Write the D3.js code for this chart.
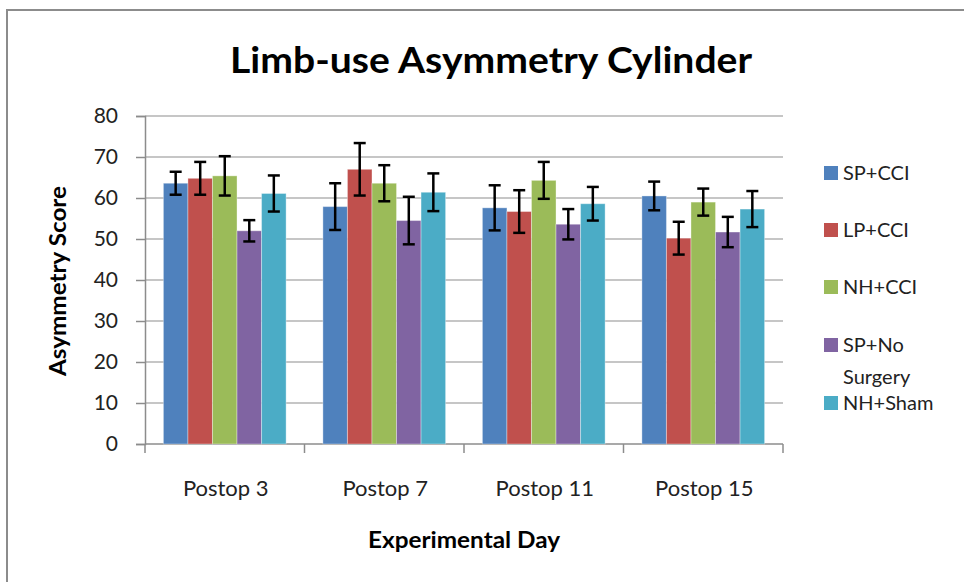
<!DOCTYPE html>
<html>
<head>
<meta charset="utf-8">
<script src="https://cdn.jsdelivr.net/npm/d3@7"></script>
<style>
  body { margin: 0; background: #fff; }
  svg text { font-family: Lato, "Noto Sans", sans-serif; }
</style>
</head>
<body>
<svg id="chart"></svg>
<script>
// chart data
const days = ["Postop 3", "Postop 7", "Postop 11", "Postop 15"];
const groups = ["SP+CCI", "LP+CCI", "NH+CCI", "SP+No Surgery", "NH+Sham"];
const colors = ["#4F81BD", "#C0504D", "#9BBB59", "#8064A2", "#4BACC6"];
// mean score per group, one entry per day
const spCci   = [63.6, 57.9, 57.6, 60.5];
const lpCci   = [64.8, 67.0, 56.7, 50.2];
const nhCci   = [65.4, 63.6, 64.3, 59.0];
const spNoSx  = [52.0, 54.5, 53.6, 51.7];
const nhSham  = [61.1, 61.4, 58.6, 57.3];
// error bar half-widths
const spCciErr  = [2.8, 5.7, 5.5, 3.5];
const lpCciErr  = [4.0, 6.4, 5.2, 4.0];
const nhCciErr  = [4.8, 4.4, 4.5, 3.3];
const spNoSxErr = [2.6, 5.8, 3.7, 3.7];
const nhShamErr = [4.4, 4.6, 4.1, 4.4];
const yTicks = [0, 10, 20, 30, 40, 50, 60, 70, 80];

const means = [spCci, lpCci, nhCci, spNoSx, nhSham];
const errs = [spCciErr, lpCciErr, nhCciErr, spNoSxErr, nhShamErr];

var width = 964, height = 582;
var svg = d3.select("#chart").attr("width", width).attr("height", height);

// chart frame (runs off the right and bottom of the picture)
svg.append("rect")
  .attr("x", 7).attr("y", 10)
  .attr("width", 1000).attr("height", 1000)
  .attr("fill", "#fff")
  .attr("stroke", "#8c8c8c")
  .attr("stroke-width", 2);

var plot = {left: 145, right: 783, top: 116, bottom: 444};

var x0 = d3.scaleBand().domain(days).range([plot.left, plot.right]);
var bw = x0.bandwidth();
var gap = bw * 1.5 / 6.5;          // 150% gap width
var x1 = d3.scaleBand().domain(groups).range([gap / 2, bw - gap / 2]);
var y = d3.scaleLinear().domain([0, 80]).range([plot.bottom, plot.top]);

// gridlines
svg.append("g")
  .selectAll("line")
  .data(yTicks.slice(1))
  .enter()
  .append("line")
  .attr("x1", plot.left).attr("x2", plot.right)
  .attr("y1", d => y(d)).attr("y2", d => y(d))
  .attr("stroke", "#b3b3b3")
  .attr("stroke-width", 1.5);

// y axis
var yAxis = svg.append("g")
  .attr("transform", "translate(" + plot.left + ",0)")
  .call(d3.axisLeft(y).tickValues(yTicks).tickSize(9).tickPadding(18));
yAxis.select(".domain").attr("stroke", "#8c8c8c").attr("stroke-width", 1.5);
yAxis.selectAll(".tick line").attr("stroke", "#8c8c8c").attr("stroke-width", 1.5);
yAxis.selectAll(".tick text")
  .attr("font-size", 21).attr("fill", "#222")
  .style("font-family", "Lato, 'Noto Sans', sans-serif");

// x axis with ticks between categories
var xAxis = svg.append("g");
xAxis.append("line")
  .attr("x1", plot.left).attr("x2", plot.right)
  .attr("y1", plot.bottom).attr("y2", plot.bottom)
  .attr("stroke", "#8c8c8c").attr("stroke-width", 1.5);
var edges = days.map(d => x0(d)).concat([plot.right]);
xAxis.selectAll("line.tk")
  .data(edges)
  .enter()
  .append("line")
  .attr("class", "tk")
  .attr("x1", d => d).attr("x2", d => d)
  .attr("y1", plot.bottom).attr("y2", plot.bottom + 9)
  .attr("stroke", "#8c8c8c").attr("stroke-width", 1.5);
xAxis.selectAll("text")
  .data(days)
  .enter()
  .append("text")
  .attr("x", d => x0(d) + bw / 2 + 1)
  .attr("y", 496)
  .attr("text-anchor", "middle")
  .attr("font-size", 22)
  .attr("fill", "#222")
  .text(d => d);

// bars
var dayG = svg.append("g")
  .selectAll("g")
  .data(days)
  .enter()
  .append("g")
  .attr("transform", d => "translate(" + x0(d) + ",0)");

var cells = dayG.selectAll("g")
  .data((d, i) => groups.map((g, k) => ({g: g, k: k, v: means[k][i], e: errs[k][i]})))
  .enter()
  .append("g");

cells.append("rect")
  .attr("x", d => x1(d.g))
  .attr("y", d => y(d.v))
  .attr("width", x1.bandwidth())
  .attr("height", d => y(0) - y(d.v))
  .attr("fill", d => colors[d.k])
  .attr("stroke", "rgba(255,255,255,0.35)")
  .attr("stroke-width", 1);

// error bars
var cap = 6;
cells.append("line")
  .attr("x1", d => x1(d.g) + x1.bandwidth() / 2)
  .attr("x2", d => x1(d.g) + x1.bandwidth() / 2)
  .attr("y1", d => y(d.v + d.e))
  .attr("y2", d => y(d.v - d.e))
  .attr("stroke", "#000").attr("stroke-width", 2.5);
cells.selectAll("line.cap")
  .data(d => [d.v + d.e, d.v - d.e].map(v => ({cx: x1(d.g) + x1.bandwidth() / 2, v: v})))
  .enter()
  .append("line")
  .attr("class", "cap")
  .attr("x1", d => d.cx - cap).attr("x2", d => d.cx + cap)
  .attr("y1", d => y(d.v)).attr("y2", d => y(d.v))
  .attr("stroke", "#000").attr("stroke-width", 2.5);

// title and axis titles
svg.append("text")
  .attr("x", 491).attr("y", 73)
  .attr("text-anchor", "middle")
  .attr("font-size", 37).attr("font-weight", "bold")
  .attr("fill", "#000")
  .attr("textLength", 522).attr("lengthAdjust", "spacingAndGlyphs")
  .text("Limb-use Asymmetry Cylinder");

svg.append("text")
  .attr("transform", "translate(66,281) rotate(-90)")
  .attr("text-anchor", "middle")
  .attr("font-size", 22).attr("font-weight", "bold")
  .attr("fill", "#000")
  .attr("textLength", 190).attr("lengthAdjust", "spacingAndGlyphs")
  .text("Asymmetry Score");

svg.append("text")
  .attr("x", 464).attr("y", 548)
  .attr("text-anchor", "middle")
  .attr("font-size", 22).attr("font-weight", "bold")
  .attr("fill", "#000")
  .attr("textLength", 192).attr("lengthAdjust", "spacingAndGlyphs")
  .text("Experimental Day");

// legend
var legendY = [173, 230, 287, 345, 403];
var legend = svg.append("g")
  .selectAll("g")
  .data(groups)
  .enter()
  .append("g")
  .attr("transform", (d, i) => "translate(824," + legendY[i] + ")");

legend.append("rect")
  .attr("x", 0).attr("y", -7)
  .attr("width", 14).attr("height", 14)
  .attr("fill", (d, i) => colors[i]);

legend.append("text")
  .attr("x", 20).attr("y", 7)
  .attr("font-size", 20)
  .attr("fill", "#222")
  .selectAll("tspan")
  .data(d => d == "SP+No Surgery" ? ["SP+No", "Surgery"] : [d])
  .enter()
  .append("tspan")
  .attr("x", 19)
  .attr("dy", (d, i) => i == 0 ? 0 : 32)
  .text(d => d);
</script>
</body>
</html>
